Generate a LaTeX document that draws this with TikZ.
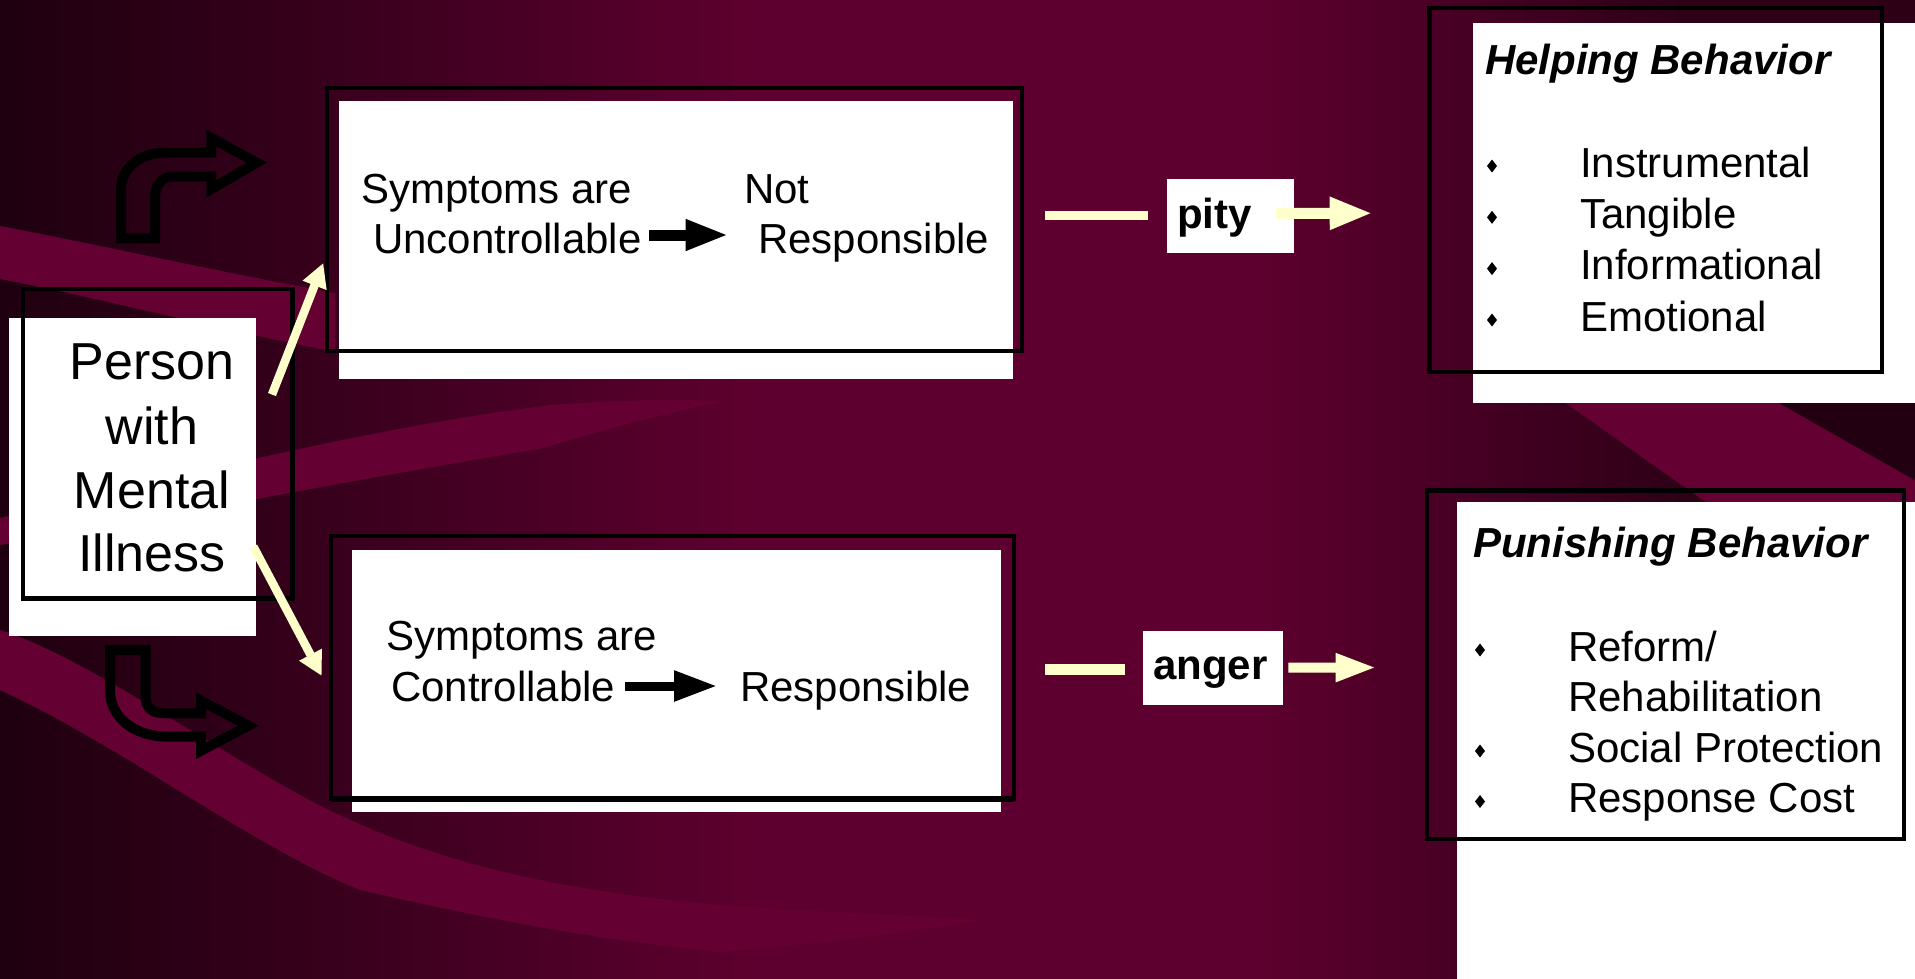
\documentclass[tikz,border=0pt]{standalone}
\usepackage{fontspec}
\setmainfont{Liberation Sans}
\usetikzlibrary{arrows.meta}
\definecolor{bgdark}{RGB}{30,0,15}
\definecolor{bgmid}{RGB}{50,0,25}
\definecolor{bgmain}{RGB}{94,0,47}
\definecolor{bgband}{RGB}{100,0,50}
\definecolor{bgright}{RGB}{45,0,22}
\definecolor{bgblack}{RGB}{35,0,17}
\definecolor{cream}{RGB}{255,255,204}
\begin{document}
\begin{tikzpicture}[x=1pt,y=-1pt,
  wbox/.style={fill=white,draw=none,inner sep=0pt,outer sep=0pt},
  fbox/.style={draw=black,line width=4.5pt,fill=none,inner sep=0pt,outer sep=0pt},
  lbl/.style={inner sep=0pt,outer sep=0pt,anchor=base west,font=\fontsize{42}{50}\selectfont},
  boldlbl/.style={lbl,font=\fontsize{42}{50}\selectfont\bfseries},
  ttl/.style={lbl,font=\fontsize{42}{50}\selectfont\bfseries\itshape},
  big/.style={inner sep=0pt,outer sep=0pt,anchor=base,font=\fontsize{52}{64}\selectfont},
  creamarrow/.style={draw=cream,line width=8.5pt,-{Triangle[length=24pt,width=24pt]}},
  creamline/.style={draw=cream,line width=9pt},
  blockarrow/.style={draw=cream,line width=11pt,-{Triangle[length=43pt,width=30pt]}},
  blackarrow/.style={draw=black,line width=10pt,-{Triangle[length=43pt,width=28.6pt]}},
  bent/.style={draw=black,line width=10pt,line join=miter},
  diam/.pic={\fill[black] (0,-6.5) -- (5,0) -- (0,6.5) -- (-5,0) -- cycle;}
]
\useasboundingbox (0,0) rectangle (1915,978);
% ---------- background ----------
\fill[bgmain] (-10,-10) rectangle (1925,988);
\shade[left color=bgdark, right color=bgmid] (-10,-10) rectangle (260,988);
\shade[left color=bgmid, right color=bgmain] (259.5,-10) rectangle (760,988);
\shade[left color=bgmain, right color=bgright] (1250,-10) rectangle (1690,988);
\fill[bgright] (1689.5,-10) rectangle (1925,988);
% bands
\fill[bgband] (0,226) .. controls (100,245) and (200,268) .. (335,293) -- (335,352) .. controls (200,325) and (100,298) .. (0,279) -- cycle;
\fill[bgband] (0,518) .. controls (150,485) and (350,430) .. (551,405) .. controls (620,400) and (680,398) .. (720,402) .. controls (680,410) and (620,425) .. (539,449) .. controls (350,480) and (150,520) .. (0,545) -- cycle;
\fill[bgband] (0,630) .. controls (80,655) and (200,740) .. (300,795) .. controls (420,860) and (550,890) .. (720,905) .. controls (820,912) and (900,915) .. (980,920) .. controls (900,935) and (800,945) .. (720,952) .. controls (550,935) and (430,905) .. (360,890) .. controls (250,845) and (120,745) .. (0,690) -- cycle;
% stripes on the right
\fill[bgband] (1540,385) -- (1754,385) -- (1915,480) -- (1915,510) -- (1717,510) -- cycle;
\fill[bgblack] (1779,403) -- (1925,403) -- (1925,486) -- cycle;
% ---------- bent arrows ----------
\draw[bent] (121,238.3) -- (121,190) .. controls (121,168) and (140,152.7) .. (165,152.7) -- (211.3,152.7) -- (211.3,138) -- (256.7,162.7) -- (211.3,189) -- (211.3,176.7) -- (172,176.7) .. controls (162,176.7) and (155,185) .. (155,198) -- (155,238.3) -- cycle;
\draw[bent] (110,650) -- (145.7,650) -- (145.7,697) .. controls (145.7,708) and (152,713.3) .. (165,713.3) -- (201,713.3) -- (201,700.7) -- (248.3,725.7) -- (201,750.7) -- (201,736.7) -- (168,736.7) .. controls (135,736.7) and (110,718) .. (110,690) -- cycle;
% ---------- boxes ----------
\node[wbox,minimum width=247pt,minimum height=318pt] (pwhite) at (132.5,477) {};
\node[fbox,minimum width=269.5pt,minimum height=309.5pt] (pframe) at (157.75,443.75) {};
\node[wbox,minimum width=674pt,minimum height=278pt] (twhite) at (676,240) {};
\node[fbox,minimum width=695pt,minimum height=263pt] (tframe) at (674.5,219.5) {};
\node[wbox,minimum width=649pt,minimum height=262pt] (bwhite) at (676.5,681) {};
\node[fbox,minimum width=683pt,minimum height=262.5pt] (bframe) at (672.5,667.25) {};
\draw[line width=6pt] (bframe.south west) -- (bframe.south east);
\node[wbox,minimum width=452pt,minimum height=380pt] (hwhite) at (1699,212.7) {};
\node[fbox,line width=4.2pt,minimum width=452.5pt,minimum height=364pt] (hframe) at (1655.75,190) {};
\node[wbox,minimum width=468.3pt,minimum height=486.3pt] (uwhite) at (1690.85,744.85) {};
\node[fbox,line width=4.2pt,minimum width=477pt,minimum height=348.5pt] (uframe) at (1665.5,664.75) {};
\node[wbox,minimum width=127pt,minimum height=74pt] (pitybox) at (1230.5,216) {};
\node[wbox,minimum width=140pt,minimum height=74pt] (angerbox) at (1213,668) {};
% ---------- texts ----------
\node[big] (pt1) at (152,379) {Person};
\node[big] (pt2) at (152,444) {with};
\node[big] (pt3) at (152,508) {Mental};
\node[big] (pt4) at (152,571) {Illness};
\node[lbl] (s1) at (361,203.3) {Symptoms are};
\node[lbl] (unc) at (373,253.3) {Uncontrollable};
\node[lbl] (notr) at (744,203.3) {Not};
\node[lbl] (resp1) at (758,253.3) {Responsible};
\node[lbl] (s2) at (386.6,650) {Symptoms are};
\node[lbl] (ctrl) at (391.2,701.7) {Controllable};
\node[lbl] (resp2) at (740.1,701.7) {Responsible};
\node[boldlbl] (pitytxt) at (1177,228) {pity};
\node[boldlbl] (angertxt) at (1153,679) {anger};
\node[ttl] (htitle) at (1485,74) {Helping Behavior};
\node[lbl] (h1) at (1580,177) {Instrumental};
\node[lbl] (h2) at (1580,228.3) {Tangible};
\node[lbl] (h3) at (1580,279.6) {Informational};
\node[lbl] (h4) at (1580,331) {Emotional};
\pic at (1492,166) {diam};
\pic at (1492,217.3) {diam};
\pic at (1492,268.6) {diam};
\pic at (1492,320) {diam};
\node[ttl] (utitle) at (1473,557.3) {Punishing Behavior};
\node[lbl] (u1) at (1568,661) {Reform/};
\node[lbl] (u2) at (1568,711.5) {Rehabilitation};
\node[lbl] (u3) at (1568,762) {Social Protection};
\node[lbl] (u4) at (1568,812.5) {Response Cost};
\pic at (1480,650) {diam};
\pic at (1480,751) {diam};
\pic at (1480,801.5) {diam};
% ---------- connectors ----------
\draw[blackarrow,line width=11pt] ([shift={(8,-18.3)}]unc.base east) -- ([shift={(-29.4,-18.3)}]resp1.base west);
\draw[blackarrow,line width=9pt] ([shift={(9.7,-15.7)}]ctrl.base east) -- ([shift={(-22.9,-15.7)}]resp2.base west);
\draw[creamarrow] ([shift={(-20.5,-49.2)}]pframe.east) -- ([shift={(-3.7,-88)}]tframe.south west);
\draw[creamarrow] ([shift={(-39.2,102.7)}]pframe.east) -- ([shift={(-9.3,8.65)}]bframe.west);
\draw[creamline] ([shift={(23,-3.7)}]tframe.east) -- ([shift={(-19,-0.2)}]pitybox.west);
\draw[blockarrow] ([shift={(-18,-2.5)}]pitybox.east) -- ([shift={(-56.8,23.2)}]hframe.west);
\draw[creamline,line width=11pt] ([shift={(31,2.15)}]bframe.east) -- ([shift={(-18,1.4)}]angerbox.west);
\draw[blockarrow,line width=10pt,-{Triangle[length=41pt,width=26pt]}] ([shift={(5.3,-0.3)}]angerbox.east) -- ([shift={(-50.3,2.75)}]uframe.west);
\end{tikzpicture}
\end{document}
